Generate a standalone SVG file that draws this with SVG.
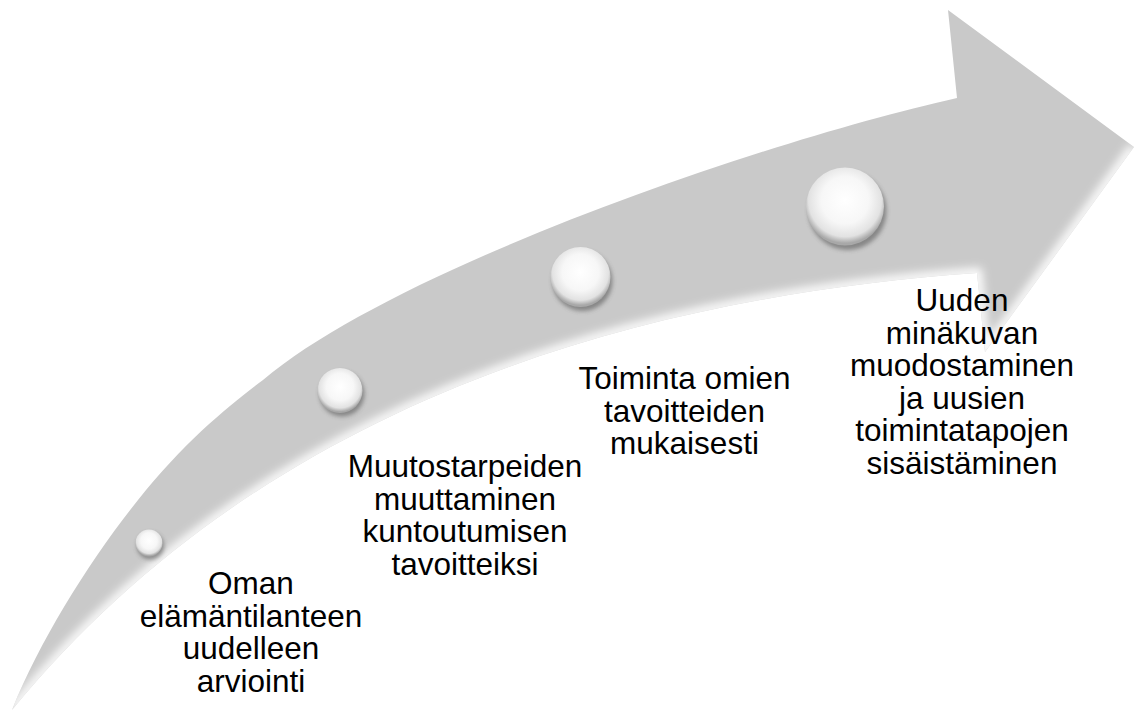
<svg xmlns="http://www.w3.org/2000/svg" width="1134" height="714" viewBox="0 0 1134 714">
<defs>
<style>
.lbl{font-family:"Liberation Sans",Arial,sans-serif;font-size:31.5px;fill:#000;text-anchor:middle}
</style>
<clipPath id="arrowClip">
<path d="M12,710 C40,640 90,560 138,500 S230,405 263,380 C393,270 757,143 957,98 L948,10 L1134,147 L985,352 L977,273 C600,300 250,420 12,710 Z"/>
</clipPath>
<filter id="blur8" x="-20%" y="-20%" width="140%" height="140%"><feGaussianBlur stdDeviation="5"/></filter>
<filter id="shadow" x="-50%" y="-50%" width="200%" height="200%"><feGaussianBlur stdDeviation="2"/></filter>
<radialGradient id="sph" cx="50%" cy="42%" r="55%">
<stop offset="0" stop-color="#ffffff"/>
<stop offset="0.55" stop-color="#f7f7f7"/>
<stop offset="0.85" stop-color="#e2e2e2"/>
<stop offset="1" stop-color="#a8a8a8"/>
</radialGradient>
</defs>

<g id="arrow">
<path d="M12,710 C40,640 90,560 138,500 S230,405 263,380 C393,270 757,143 957,98 L948,10 L1134,147 L985,352 L977,273 C600,300 250,420 12,710 Z" fill="#c9c9c9"/>
<g clip-path="url(#arrowClip)">
<path d="M1134,147 L985,352 L977,273 C600,300 250,420 12,710" fill="none" stroke="#ffffff" stroke-width="10" filter="url(#blur8)"/>
</g>
</g>

<g id="node1">
<circle cx="150.5" cy="546" r="13.5" fill="#444" opacity="0.5" filter="url(#shadow)"/>
<circle cx="149" cy="543" r="13.5" fill="url(#sph)"/>
<text class="lbl" x="251" y="594">Oman</text>
<text class="lbl" x="251" y="626.5">elämäntilanteen</text>
<text class="lbl" x="251" y="659">uudelleen</text>
<text class="lbl" x="251" y="691.5">arviointi</text>
</g>

<g id="node2">
<circle cx="342" cy="394" r="22.5" fill="#444" opacity="0.5" filter="url(#shadow)"/>
<circle cx="340" cy="390.5" r="22.5" fill="url(#sph)"/>
<text class="lbl" x="465" y="477">Muutostarpeiden</text>
<text class="lbl" x="465" y="509.5">muuttaminen</text>
<text class="lbl" x="465" y="542">kuntoutumisen</text>
<text class="lbl" x="465" y="574.5">tavoitteiksi</text>
</g>

<g id="node3">
<circle cx="582.5" cy="281" r="30" fill="#444" opacity="0.5" filter="url(#shadow)"/>
<circle cx="580.5" cy="277" r="30" fill="url(#sph)"/>
<text class="lbl" x="684.5" y="389">Toiminta omien</text>
<text class="lbl" x="684.5" y="421.5">tavoitteiden</text>
<text class="lbl" x="684.5" y="454">mukaisesti</text>
</g>

<g id="node4">
<circle cx="847.5" cy="211" r="39" fill="#444" opacity="0.5" filter="url(#shadow)"/>
<circle cx="845" cy="206.5" r="39" fill="url(#sph)"/>
<text class="lbl" x="962" y="311">Uuden</text>
<text class="lbl" x="962" y="343.5">minäkuvan</text>
<text class="lbl" x="962" y="376">muodostaminen</text>
<text class="lbl" x="962" y="408.5">ja uusien</text>
<text class="lbl" x="962" y="441">toimintatapojen</text>
<text class="lbl" x="962" y="473.5">sisäistäminen</text>
</g>

<g id="connectors"></g>
</svg>
